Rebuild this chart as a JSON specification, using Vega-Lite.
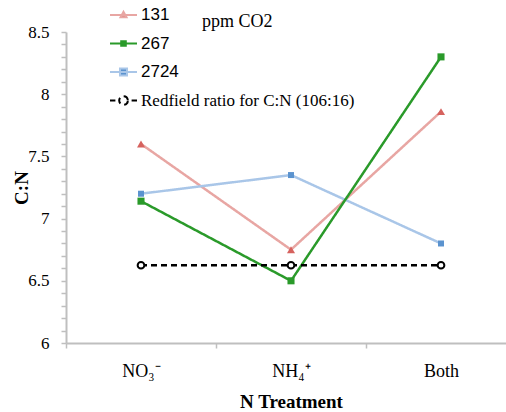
{
  "$schema": "https://vega.github.io/schema/vega-lite/v6.json",
  "autosize": {"type": "none"},
  "padding": {"left": 66, "top": 32, "right": 0, "bottom": 69},
  "width": {"step": 150},
  "height": 311,
  "background": "white",
  "config": {"view": {"stroke": null}},
  "title": {"text": "ppm CO2", "anchor": "start", "frame": "group", "dx": 136, "dy": 45, "offset": 1, "baseline": "alphabetic", "font": "Liberation Serif", "fontSize": 18, "fontWeight": "normal", "color": "black"},
  "data": {"values": [
    {"series": "131", "treatment": "NO₃⁻", "cn": 7.60},
    {"series": "131", "treatment": "NH₄⁺", "cn": 6.75},
    {"series": "131", "treatment": "Both", "cn": 7.86},
    {"series": "2724", "treatment": "NO₃⁻", "cn": 7.20},
    {"series": "2724", "treatment": "NH₄⁺", "cn": 7.35},
    {"series": "2724", "treatment": "Both", "cn": 6.80},
    {"series": "267", "treatment": "NO₃⁻", "cn": 7.14},
    {"series": "267", "treatment": "NH₄⁺", "cn": 6.50},
    {"series": "267", "treatment": "Both", "cn": 8.30},
    {"series": "Redfield ratio for C:N (106:16)", "treatment": "NO₃⁻", "cn": 6.625},
    {"series": "Redfield ratio for C:N (106:16)", "treatment": "NH₄⁺", "cn": 6.625},
    {"series": "Redfield ratio for C:N (106:16)", "treatment": "Both", "cn": 6.625}
  ]},
  "encoding": {
    "x": {
      "field": "treatment", "type": "nominal", "sort": ["NO₃⁻", "NH₄⁺", "Both"],
      "scale": {"paddingInner": 0, "paddingOuter": 0},
      "axis": {
        "title": "N Treatment", "titleFont": "Liberation Serif", "titleFontSize": 19, "titleFontWeight": "bold", "titleColor": "black",
        "titleY": 64, "titleBaseline": "alphabetic",
        "labelFont": "Liberation Serif", "labelFontSize": 18, "labelColor": "black", "labelAngle": 0, "labelPadding": 14,
        "tickBand": "extent", "tickSize": 5, "tickColor": "#bfbfbf", "tickWidth": 1.5,
        "domainColor": "#bfbfbf", "domainWidth": 2, "grid": false
      }
    },
    "y": {
      "field": "cn", "type": "quantitative",
      "scale": {"domain": [6, 8.5], "nice": false, "zero": false},
      "axis": {
        "values": [6, 6.1, 6.2, 6.3, 6.4, 6.5, 6.6, 6.7, 6.8, 6.9, 7, 7.1, 7.2, 7.3, 7.4, 7.5, 7.6, 7.7, 7.8, 7.9, 8, 8.1, 8.2, 8.3, 8.4, 8.5],
        "labelExpr": "abs(datum.value * 2 - round(datum.value * 2)) < 0.001 ? format(datum.value, '~g') : ''",
        "labelOverlap": false, "labelFlush": false,
        "title": "C:N", "titleFont": "Liberation Serif", "titleFontSize": 19, "titleFontWeight": "bold", "titleColor": "black",
        "titleX": -39, "titleY": 155.5, "titleAngle": -90, "titleBaseline": "alphabetic", "titleAlign": "center",
        "labelFont": "Liberation Serif", "labelFontSize": 17, "labelColor": "black", "labelPadding": 12,
        "tickSize": 5, "tickColor": "#bfbfbf", "tickWidth": 1.5,
        "domainColor": "#bfbfbf", "domainWidth": 2, "grid": false
      }
    }
  },
  "layer": [
    {
      "mark": {"type": "line", "strokeWidth": 2.5},
      "encoding": {
        "color": {
          "field": "series", "type": "nominal",
          "scale": {"domain": ["131", "267", "2724", "Redfield ratio for C:N (106:16)"], "range": ["#e8a6a3", "#2a9a2a", "#a9c6e8", "#000000"]},
          "legend": {
            "title": null, "orient": "none", "legendX": 43, "legendY": -31.5,
            "symbolSize": 729, "symbolStrokeWidth": 2, "symbolOpacity": 1,
            "labelFont": "Liberation Sans", "labelFontSize": 17, "labelColor": "black", "labelOffset": 3, "labelLimit": 0,
            "rowPadding": 5.5, "padding": 0,
            "encode": {
              "symbols": {"update": {
                "shape": {"signal": "datum.value === '131' ? 'M-1,0H1M0,-0.24L0.22,0.16L-0.22,0.16Z' : datum.value === '267' ? 'M-1,0H1M-0.17,-0.17H0.17V0.17H-0.17Z' : datum.value === '2724' ? 'M-1,0H1M-0.26,-0.26H0.26V0.26H-0.26Z' : 'M-1,0H-0.6M0.6,0H1M0.32,0C0.32,0.177,0.177,0.32,0,0.32C-0.177,0.32,-0.32,0.177,-0.32,0C-0.32,-0.177,-0.177,-0.32,0,-0.32C0.177,-0.32,0.32,-0.177,0.32,0Z'"},
                "fill": {"signal": "datum.value === '131' ? '#d6625e' : datum.value === '267' ? '#2a9a2a' : datum.value === '2724' ? '#5b93cf' : '#ffffff'"},
                "strokeDash": {"value": [1, 0]}
              }},
              "labels": {"update": {
                "font": {"signal": "datum.value === 'Redfield ratio for C:N (106:16)' ? 'Liberation Serif' : 'Liberation Sans'"}
              }}
            }
          }
        },
        "strokeDash": {
          "field": "series", "type": "nominal",
          "scale": {"domain": ["131", "267", "2724", "Redfield ratio for C:N (106:16)"], "range": [[1, 0], [1, 0], [1, 0], [6, 4]]},
          "legend": null
        }
      }
    },
    {
      "transform": [{"filter": "datum.series !== 'Redfield ratio for C:N (106:16)'"}],
      "mark": {"type": "point", "filled": true, "opacity": 1},
      "encoding": {
        "shape": {"field": "series", "type": "nominal", "scale": {"domain": ["131", "267", "2724"], "range": ["triangle-up", "square", "square"]}, "legend": null},
        "fill": {"field": "series", "type": "nominal", "scale": {"domain": ["131", "267", "2724"], "range": ["#d6625e", "#2a9a2a", "#5b93cf"]}, "legend": null},
        "size": {"field": "series", "type": "ordinal", "scale": {"domain": ["131", "267", "2724"], "range": [64, 36, 72]}, "legend": null}
      }
    },
    {
      "transform": [{"filter": "datum.series === 'Redfield ratio for C:N (106:16)'"}],
      "mark": {"type": "point", "shape": "circle", "filled": true, "fill": "white", "stroke": "black", "strokeWidth": 2, "size": 45, "opacity": 1},
      "encoding": {}
    }
  ]
}
